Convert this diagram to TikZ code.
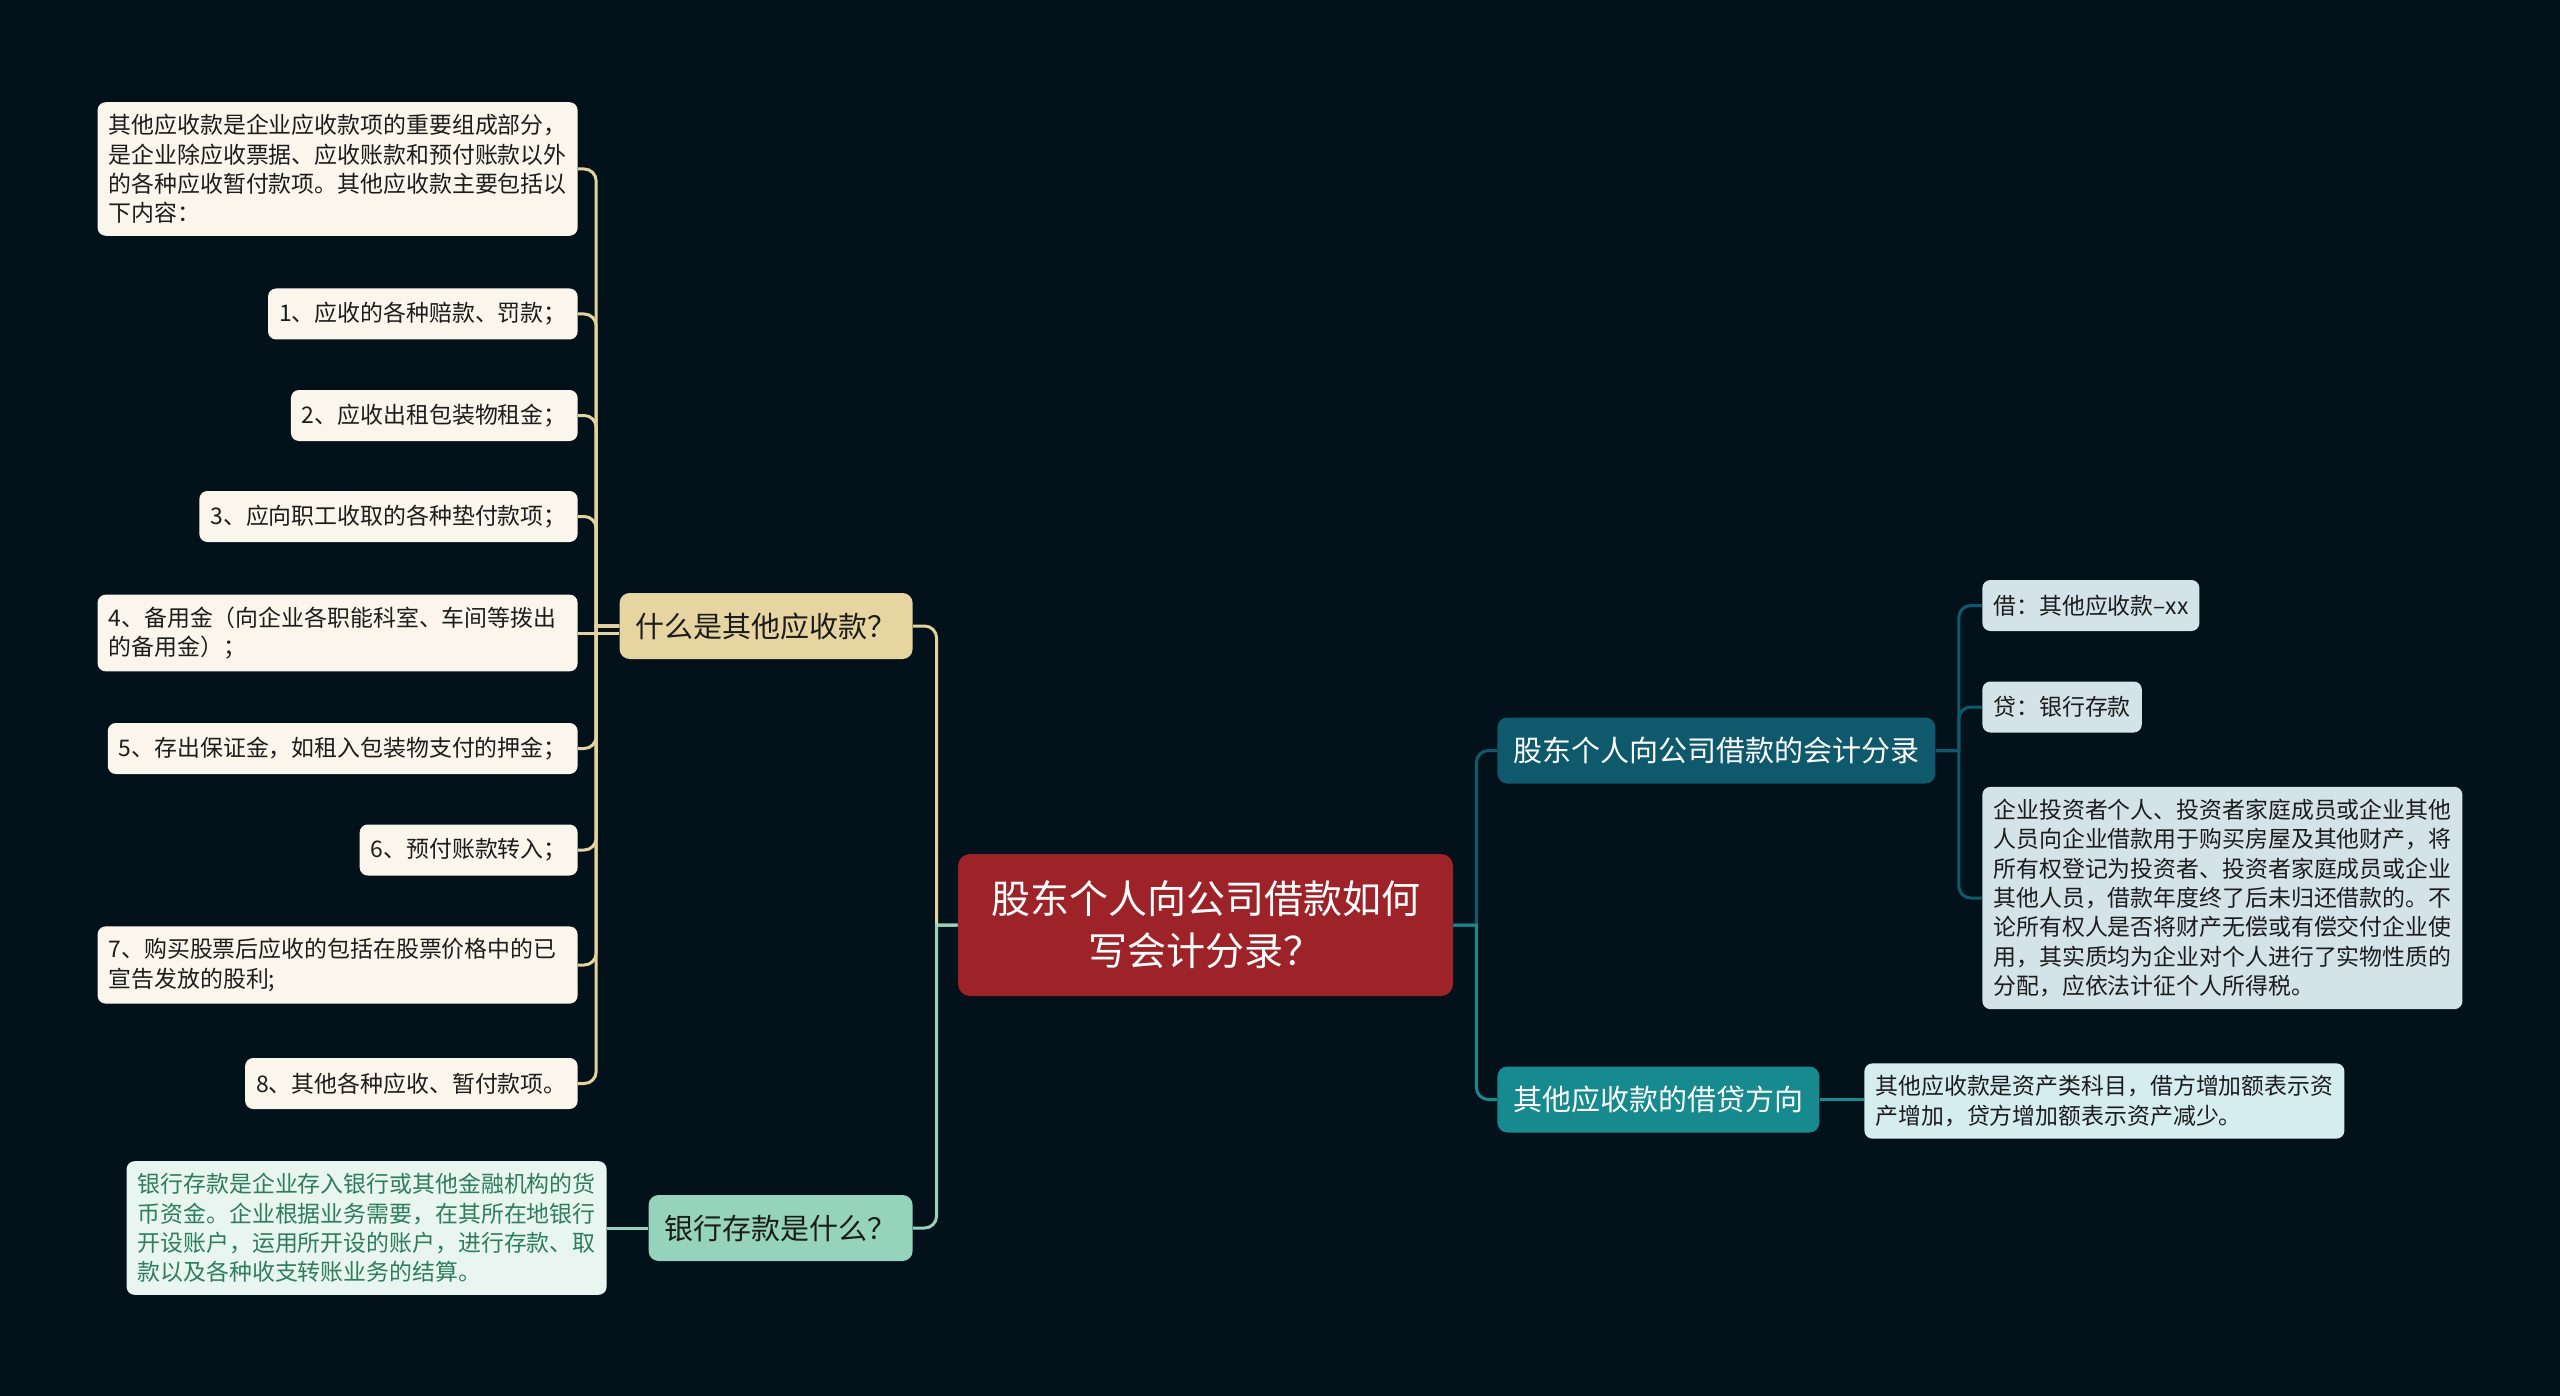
\documentclass[tikz,border=0pt]{standalone}
\usepackage{fontspec}
\newfontfamily\cjk{Noto Sans CJK SC}
\definecolor{bgc}{HTML}{03111A}
\definecolor{centerc}{HTML}{9E2329}
\definecolor{tanc}{HTML}{E6D5A1}
\definecolor{creamc}{HTML}{FAF6EC}
\definecolor{tanline}{HTML}{E3D39E}
\definecolor{mintc}{HTML}{95D3BC}
\definecolor{mintleaf}{HTML}{E8F5F0}
\definecolor{minttext}{HTML}{2E7D5E}
\definecolor{dtealc}{HTML}{0E5A6C}
\definecolor{blueleaf}{HTML}{D3E3E7}
\definecolor{tealc}{HTML}{168A8F}
\definecolor{tealleaf}{HTML}{D6EDEF}
\definecolor{darktext}{HTML}{1C1C1C}
\begin{document}
\begin{tikzpicture}[x=0.5pt,y=-0.5pt,
  leafbox/.style={rounded corners=4pt, inner xsep=5.5pt, inner ysep=6pt,
    font=\cjk\fontsize{11.45pt}{14.7pt}\selectfont, text=darktext, minimum height=25.5pt},
  wide/.style={text width=229pt, align=left},
  creambox/.style={leafbox, fill=creamc},
  mintbox/.style={leafbox, fill=mintleaf, text=minttext},
  bluebox/.style={leafbox, fill=blueleaf},
  tealbox/.style={leafbox, fill=tealleaf},
  branchbox/.style={rounded corners=5pt, inner xsep=8pt, inner ysep=5pt,
    font=\cjk\fontsize{14.5pt}{18pt}\selectfont, minimum height=33pt},
  conn/.style={line width=1.5pt}
]
\useasboundingbox[fill=bgc] (0,0) rectangle (2560,1396);

% center
\node[fill=centerc, rounded corners=6pt, text=white, align=center,
  minimum width=247.5pt, minimum height=71pt,
  font=\cjk\fontsize{19.5pt}{26pt}\selectfont] (c) at (1205.5,925) {股东个人向公司借款如何\\写会计分录？};

% left branches
\node[branchbox, fill=tanc, text=darktext, anchor=east] (b1) at (913,626) {什么是其他应收款？};
\node[branchbox, fill=mintc, text=darktext, anchor=east] (b2) at (913,1228) {银行存款是什么？};

% right branches
\node[branchbox, fill=dtealc, text=white, anchor=west] (r1) at (1497,750.5) {股东个人向公司借款的会计分录};
\node[branchbox, fill=tealc, text=white, anchor=west] (r2) at (1497,1099.5) {其他应收款的借贷方向};

% leaves of b1
\node[creambox, wide, anchor=east] (l0) at (578,169) {其他应收款是企业应收款项的重要组成部分，\\是企业除应收票据、应收账款和预付账款以外\\的各种应收暂付款项。其他应收款主要包括以\\下内容：};
\node[creambox, anchor=east] (l1) at (578,314) {1、应收的各种赔款、罚款；};
\node[creambox, anchor=east] (l2) at (578,415.5) {2、应收出租包装物租金；};
\node[creambox, anchor=east] (l3) at (578,516.5) {3、应向职工收取的各种垫付款项；};
\node[creambox, wide, anchor=east] (l4) at (578,633) {4、备用金（向企业各职能科室、车间等拨出\\的备用金）；};
\node[creambox, anchor=east] (l5) at (578,748.5) {5、存出保证金，如租入包装物支付的押金；};
\node[creambox, anchor=east] (l6) at (578,850) {6、预付账款转入；};
\node[creambox, wide, anchor=east] (l7) at (578,965) {7、购买股票后应收的包括在股票价格中的已\\宣告发放的股利;};
\node[creambox, anchor=east] (l8) at (578,1083.5) {8、其他各种应收、暂付款项。};

% leaf of b2
\node[mintbox, wide, anchor=east] (m1) at (607,1228) {银行存款是企业存入银行或其他金融机构的货\\币资金。企业根据业务需要，在其所在地银行\\开设账户，运用所开设的账户，进行存款、取\\款以及各种收支转账业务的结算。};

% leaves of r1
\node[bluebox, anchor=west] (s1) at (1982,605.5) {借：其他应收款–xx};
\node[bluebox, anchor=west] (s2) at (1982,707) {贷：银行存款};
\node[bluebox, wide, anchor=west] (s3) at (1982,898) {企业投资者个人、投资者家庭成员或企业其他\\人员向企业借款用于购买房屋及其他财产，将\\所有权登记为投资者、投资者家庭成员或企业\\其他人员，借款年度终了后未归还借款的。不\\论所有权人是否将财产无偿或有偿交付企业使\\用，其实质均为企业对个人进行了实物性质的\\分配，应依法计征个人所得税。};

% leaf of r2
\node[tealbox, wide, anchor=west] (t1) at (1864,1101) {其他应收款是资产类科目，借方增加额表示资\\产增加，贷方增加额表示资产减少。};

% connectors center -> branches
\draw[conn, tanline] (c.west) -- ++(-21,0) [rounded corners=6pt] |- (b1.east);
\draw[conn, mintc] (c.west) -- ++(-21,0) [rounded corners=6pt] |- (b2.east);
\draw[conn, dtealc] (c.east) -- ++(23,0) [rounded corners=6pt] |- (r1.west);
\draw[conn, tealc] (c.east) -- ++(23,0) [rounded corners=6pt] |- (r2.west);

% b1 -> leaves
\foreach \n in {l0,l1,l2,l3,l5,l6,l7,l8}
  \draw[conn, tanline] (b1.west) -- ++(-23,0) [rounded corners=6pt] |- (\n.east);
\draw[conn, tanline] (l4.east) -- (l4.east -| b1.west);

% b2 -> leaf
\draw[conn, mintc] (b2.west) -- (b2.west -| m1.east);

% r1 -> leaves
\foreach \n in {s1,s2,s3}
  \draw[conn, dtealc] (r1.east) -- ++(23,0) [rounded corners=6pt] |- (\n.west);

% r2 -> leaf
\draw[conn, tealc] (r2.east) -- (r2.east -| t1.west);
\end{tikzpicture}
\end{document}
